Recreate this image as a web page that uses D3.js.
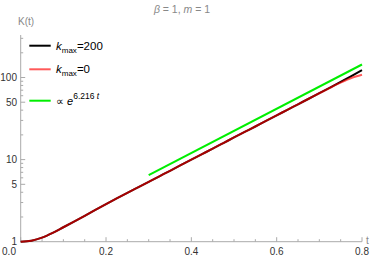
<!DOCTYPE html>
<html><head><meta charset="utf-8">
<script src="https://cdn.jsdelivr.net/npm/d3@7"></script>
<style>body{margin:0;background:#fff}svg{display:block;font-family:"Liberation Sans",Arial,sans-serif}</style>
</head><body><div id="c"></div>
<script>
const tVals = [0,0.025,0.05,0.075,0.1,0.125,0.15,0.175,0.2,0.225,0.25,0.275,0.3,0.325,0.35,0.375,0.4,0.425,0.45,0.475,0.5,0.525,0.55,0.575,0.6,0.625,0.65,0.675,0.7,0.725,0.75,0.775,0.8];
const kmax200 = [1,1.03,1.12,1.28,1.50,1.76,2.07,2.44,2.87,3.36,3.93,4.59,5.36,6.26,7.31,8.54,9.98,11.65,13.6,15.9,18.6,21.7,25.3,29.6,34.6,40.4,47.2,55.1,64.4,75.3,88.5,104,123];
const kmax0   = [1,1.03,1.12,1.28,1.50,1.76,2.07,2.44,2.87,3.36,3.93,4.59,5.36,6.26,7.31,8.54,9.98,11.65,13.6,15.9,18.6,21.7,25.3,29.6,34.6,40.4,47.2,55.1,64.3,74.8,86.5,98.5,108];
const fitT = [0.3,0.8];
const fitK = [6.45,144];
const xTicks = [0,0.2,0.4,0.6,0.8];
const xTickLabels = ["0.0","0.2","0.4","0.6","0.8"];
const yTicks = [1,5,10,50,100];
const yTickLabels = ["1","5","10","50","100"];

const W=374,H=258;
const svg=d3.select("#c").append("svg").attr("width",W).attr("height",H);
const x=d3.scaleLinear().domain([0,0.8]).range([20.7,362]);
const y=d3.scaleLog().domain([1,10**((241.7-35)/82.1)]).range([241.7,35]);
const axisCol="#aaa";

svg.append("line").attr("x1",x(0)).attr("x2",x(0.8)).attr("y1",241.7).attr("y2",241.7).attr("stroke",axisCol);
svg.append("line").attr("x1",x(0)).attr("x2",x(0)).attr("y1",241.7).attr("y2",35).attr("stroke",axisCol);

const xminor=d3.range(0,0.8001,0.05);
xminor.forEach((v,i)=>{
  const major = i%4===0;
  svg.append("line").attr("x1",x(v)).attr("x2",x(v)).attr("y1",241.7).attr("y2",241.7-(major?4.5:2.5)).attr("stroke",axisCol);
});
xTicks.forEach((v,i)=>{
  svg.append("text").attr("x", i===0? 9 : x(v)).attr("y",255).attr("text-anchor","middle")
    .attr("font-size",10).attr("fill","#333").text(xTickLabels[i]);
});
const yminor=[];
[1,10,100].forEach(d=>{for(let k=1;k<10;k++){const v=d*k; if(v<=y.domain()[1]) yminor.push(v);}});
yminor.forEach(v=>{
  const major=yTicks.includes(v);
  svg.append("line").attr("x1",x(0)).attr("x2",x(0)+(major?4.5:2.5)).attr("y1",y(v)).attr("y2",y(v)).attr("stroke",axisCol);
});
yTicks.forEach((v,i)=>{
  svg.append("text").attr("x",17).attr("y",y(v)+3.5).attr("text-anchor","end")
    .attr("font-size",10).attr("fill","#333").text(yTickLabels[i]);
});

svg.append("text").attr("x",18).attr("y",25).attr("font-size",10).attr("fill","#888").text("K(t)");
svg.append("text").attr("x",366).attr("y",244).attr("font-size",10).attr("fill","#888").text("t");
const title=svg.append("text").attr("x",182).attr("y",13).attr("text-anchor","middle").attr("font-size",10.5).attr("fill","#888");
title.append("tspan").attr("font-style","italic").text("β");
title.append("tspan").text(" = 1,  ");
title.append("tspan").attr("font-style","italic").text("m");
title.append("tspan").text(" = 1");

const line=d3.line().x(d=>x(d[0])).y(d=>y(d[1])).curve(d3.curveMonotoneX);
svg.append("path").attr("d",line(tVals.map((t,i)=>[t,kmax200[i]]))).attr("fill","none").attr("stroke","#000").attr("stroke-width",2);
svg.append("path").attr("d",line(tVals.map((t,i)=>[t,kmax0[i]]))).attr("fill","none").attr("stroke","#ff0000").attr("stroke-opacity",0.65).attr("stroke-width",2);
svg.append("path").attr("d",line(fitT.map((t,i)=>[t,fitK[i]]))).attr("fill","none").attr("stroke","#00ee00").attr("stroke-width",2);

const leg=[{y:45.7,c:"#000",o:1},{y:69.3,c:"#ff0000",o:0.65},{y:100.7,c:"#00ee00",o:1}];
leg.forEach(l=>svg.append("line").attr("x1",29.3).attr("x2",50.7).attr("y1",l.y).attr("y2",l.y).attr("stroke",l.c).attr("stroke-opacity",l.o).attr("stroke-width",2));
function kmaxLabel(yy,val){
  const t=svg.append("text").attr("x",56).attr("y",yy+4).attr("font-size",11.5).attr("fill","#000");
  t.append("tspan").attr("font-style","italic").text("k");
  t.append("tspan").attr("font-size",8).attr("dy",3).text("max");
  t.append("tspan").attr("dy",-3).text("="+val);
}
kmaxLabel(45.7,"200");
kmaxLabel(69.3,"0");
const t3=svg.append("text").attr("x",56).attr("y",104.5).attr("font-size",11).attr("fill","#000");
t3.append("tspan").text("∝ ");
t3.append("tspan").attr("font-style","italic").text("e");
t3.append("tspan").attr("font-size",8.5).attr("dy",-5.5).text("6.216 ");
t3.append("tspan").attr("font-size",8.5).attr("font-style","italic").text("t");
</script></body></html>
